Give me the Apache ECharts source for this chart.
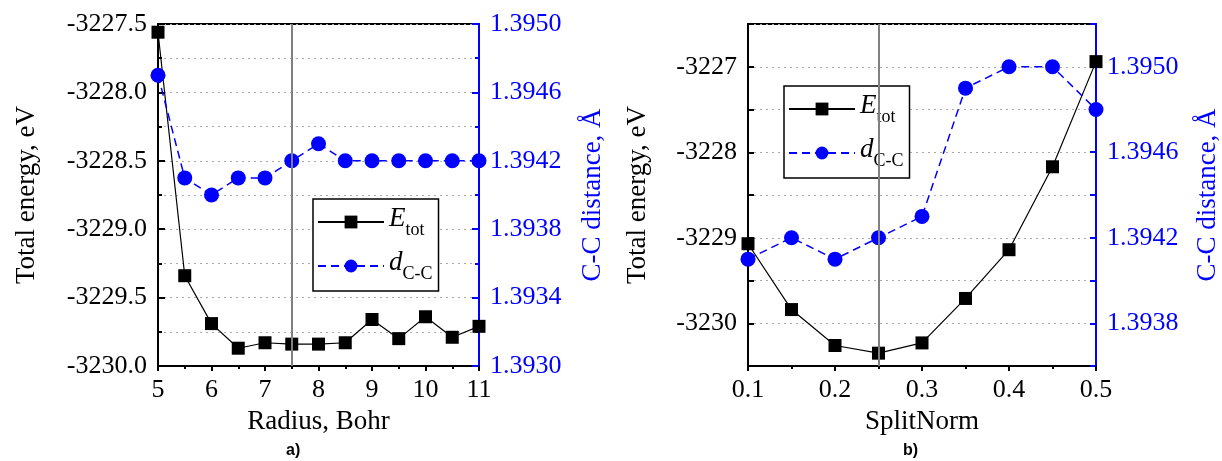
<!DOCTYPE html>
<html>
<head>
<meta charset="utf-8">
<script src="https://cdn.jsdelivr.net/npm/echarts@6/dist/echarts.min.js"></script>
<style>
  html, body { margin: 0; padding: 0; background: #fff; }
  #chart { width: 1222px; height: 461px; }
</style>
</head>
<body>
<div id="chart"></div>
<script>
// panel a) radius scan
var radius = [5, 5.5, 6, 6.5, 7, 7.5, 8, 8.5, 9, 9.5, 10, 10.5, 11];
var energyA = [-3227.56, -3229.34, -3229.69, -3229.87, -3229.83, -3229.84, -3229.84, -3229.83, -3229.66, -3229.80, -3229.64, -3229.79, -3229.71];
var distA = [1.3947, 1.3941, 1.3940, 1.3941, 1.3941, 1.3942, 1.3943, 1.3942, 1.3942, 1.3942, 1.3942, 1.3942, 1.3942];
var chosenRadius = 7.5;

// panel b) SplitNorm scan
var splitNorm = [0.1, 0.15, 0.2, 0.25, 0.3, 0.35, 0.4, 0.45, 0.5];
var energyB = [-3229.07, -3229.84, -3230.26, -3230.35, -3230.23, -3229.71, -3229.14, -3228.17, -3226.94];
var distB = [1.3941, 1.3942, 1.3941, 1.3942, 1.3943, 1.3949, 1.3950, 1.3950, 1.3948];
var chosenSplit = 0.25;

var serif = '"Liberation Serif", "DejaVu Serif", serif';
var blue = '#0000ff';

function pairs(xs, ys) {
    return xs.map(function (x, i) { return [x, ys[i]]; });
}

var chart = echarts.init(document.getElementById('chart'));

var tickFont = { fontFamily: serif, fontSize: 26, color: '#000' };
var nameFont = { fontFamily: serif, fontSize: 27, color: '#000' };

function xAxisCfg(grid, name, min, max, interval, fmt) {
    return {
        type: 'value', gridIndex: grid, min: min, max: max, interval: interval,
        name: name, nameLocation: 'middle', nameGap: 42, nameTextStyle: nameFont,
        axisLine: { lineStyle: { color: '#000', width: 2 } },
        axisTick: { inside: false, length: 5, lineStyle: { color: '#000', width: 2 } },
        minorTick: { show: true, splitNumber: 2, length: 3, lineStyle: { color: '#000', width: 2 } },
        axisLabel: Object.assign({ margin: 11, formatter: fmt }, tickFont),
        splitLine: { show: false }
    };
}

var legendCfg = {
    orient: 'vertical',
    data: ['Etot', 'dCC'],
    backgroundColor: '#fff',
    borderColor: '#000',
    borderWidth: 1.5,
    padding: [6, 6, 8, 4],
    itemWidth: 66,
    itemHeight: 16,
    itemGap: 10,
    formatter: function (name) {
        return name === 'Etot' ? '{i|E}{s|tot}' : '{i|d}{s|C-C}';
    },
    textStyle: {
        rich: {
            i: { fontFamily: serif, fontStyle: 'italic', fontSize: 27, color: '#000', verticalAlign: 'bottom', padding: [0, 0, 7, 0] },
            s: { fontFamily: serif, fontSize: 18, color: '#000', verticalAlign: 'bottom' }
        }
    }
};

var option = {
    animation: false,
    backgroundColor: '#fff',
    textStyle: { fontFamily: serif },
    grid: [
        { left: 158, right: 743, top: 24, bottom: 95, show: true, borderColor: '#000', borderWidth: 2 },
        { left: 748, right: 126, top: 24, bottom: 95, show: true, borderColor: '#000', borderWidth: 2 }
    ],
    legend: [
        Object.assign({ left: 313, top: 199 }, legendCfg),
        Object.assign({ left: 784, top: 86 }, legendCfg)
    ],
    xAxis: [
        xAxisCfg(0, 'Radius, Bohr', 5, 11, 1, function (v) { return String(v); }),
        xAxisCfg(1, 'SplitNorm', 0.1, 0.5, 0.1, function (v) { return v.toFixed(1); })
    ],
    yAxis: [
        {
            type: 'value', gridIndex: 0, position: 'left', min: -3230, max: -3227.5, interval: 0.5,
            name: 'Total energy, eV', nameLocation: 'middle', nameGap: 118, nameTextStyle: nameFont,
            axisLine: { show: true, lineStyle: { color: '#000', width: 2 } },
            axisTick: { inside: true, length: 7, lineStyle: { color: '#000', width: 2 } },
            minorTick: { show: true, splitNumber: 2, length: 4, lineStyle: { color: '#000', width: 2 } },
            axisLabel: Object.assign({ margin: 11, formatter: function (v) { return v.toFixed(1); } }, tickFont),
            splitLine: { show: true, lineStyle: { color: '#aaa', type: [2, 4], width: 1 } },
            minorSplitLine: { show: true, lineStyle: { color: '#aaa', type: [2, 4], width: 1 } }
        },
        {
            type: 'value', gridIndex: 0, position: 'right', min: 1.3930, max: 1.3950, interval: 0.0004,
            name: 'C-C distance, Å', nameLocation: 'middle', nameGap: 100, nameRotate: 90,
            nameTextStyle: { fontFamily: serif, fontSize: 27, color: blue },
            axisLine: { show: true, lineStyle: { color: blue, width: 2 } },
            axisTick: { inside: true, length: 7, lineStyle: { color: blue, width: 2 } },
            minorTick: { show: true, splitNumber: 2, length: 4, lineStyle: { color: blue, width: 2 } },
            axisLabel: { margin: 11, fontFamily: serif, fontSize: 26, color: blue, formatter: function (v) { return v.toFixed(4); } },
            splitLine: { show: false }
        },
        {
            type: 'value', gridIndex: 1, position: 'left', min: -3230.5, max: -3226.5, interval: 0.5,
            name: 'Total energy, eV', nameLocation: 'middle', nameGap: 97, nameTextStyle: nameFont,
            axisLine: { show: true, lineStyle: { color: '#000', width: 2 } },
            axisTick: { inside: true, length: 6, lineStyle: { color: '#000', width: 2 } },
            axisLabel: Object.assign({
                margin: 11,
                formatter: function (v) { return Math.abs(v - Math.round(v)) < 1e-6 ? String(Math.round(v)) : ''; }
            }, tickFont),
            splitLine: { show: true, lineStyle: { color: '#aaa', type: [2, 4], width: 1 } }
        },
        {
            type: 'value', gridIndex: 1, position: 'right', min: 1.3936, max: 1.3952, interval: 0.0002,
            name: 'C-C distance, Å', nameLocation: 'middle', nameGap: 98, nameRotate: 90,
            nameTextStyle: { fontFamily: serif, fontSize: 27, color: blue },
            axisLine: { show: true, lineStyle: { color: blue, width: 2 } },
            axisTick: { inside: true, length: 6, lineStyle: { color: blue, width: 2 } },
            axisLabel: {
                margin: 11, fontFamily: serif, fontSize: 26, color: blue,
                formatter: function (v) { return Math.round((v - 1.3936) / 0.0002) % 2 === 1 ? v.toFixed(4) : ''; }
            },
            splitLine: { show: false }
        }
    ],
    graphic: [
        { type: 'text', left: 286, top: 443, style: { text: 'a)', font: 'bold 16px "Liberation Sans"', fill: '#000' } },
        { type: 'text', left: 903, top: 443, style: { text: 'b)', font: 'bold 16px "Liberation Sans"', fill: '#000' } }
    ],
    series: [
        {
            name: 'Etot', type: 'line', xAxisIndex: 0, yAxisIndex: 0, data: pairs(radius, energyA),
            symbol: 'rect', symbolSize: 13, itemStyle: { color: '#000' },
            lineStyle: { color: '#000', width: 1.2 },
            markLine: {
                silent: true, symbol: 'none', label: { show: false },
                lineStyle: { color: '#808080', width: 2, type: 'solid' },
                data: [{ xAxis: chosenRadius }]
            }
        },
        {
            name: 'dCC', type: 'line', xAxisIndex: 0, yAxisIndex: 1, data: pairs(radius, distA),
            symbol: 'circle', symbolSize: 15, itemStyle: { color: blue },
            lineStyle: { color: blue, width: 1.5, type: [8, 5] }
        },
        {
            name: 'Etot', type: 'line', xAxisIndex: 1, yAxisIndex: 2, data: pairs(splitNorm, energyB),
            symbol: 'rect', symbolSize: 13, itemStyle: { color: '#000' },
            lineStyle: { color: '#000', width: 1.2 },
            markLine: {
                silent: true, symbol: 'none', label: { show: false },
                lineStyle: { color: '#808080', width: 2, type: 'solid' },
                data: [{ xAxis: chosenSplit }]
            }
        },
        {
            name: 'dCC', type: 'line', xAxisIndex: 1, yAxisIndex: 3, data: pairs(splitNorm, distB),
            symbol: 'circle', symbolSize: 15, itemStyle: { color: blue },
            lineStyle: { color: blue, width: 1.5, type: [8, 5] }
        }
    ]
};

chart.setOption(option);
</script>
</body>
</html>
